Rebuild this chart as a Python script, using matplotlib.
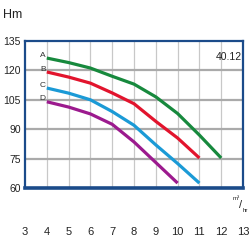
import matplotlib.pyplot as plt

# pump curves: flow (m3/hr) vs head (Hm)
flow_a = [4, 5, 6, 7, 8, 9, 10, 11, 12]
head_a = [126.3, 124, 121.2, 117, 113, 106.5, 98, 87, 75.3]
flow_b = [4, 5, 6, 7, 8, 9, 10, 11]
head_b = [119.2, 116.6, 113.5, 108.5, 103, 94, 85.5, 75.3]
flow_c = [4, 5, 6, 7, 8, 9, 10, 11]
head_c = [111, 108.4, 105, 99, 92, 82, 72.5, 62.5]
flow_d = [4, 5, 6, 7, 8, 9, 10]
head_d = [104, 101.3, 97.8, 92.5, 83.5, 73, 62.5]

curve_names = ["A", "B", "C", "D"]
curve_colors = ["#17893d", "#e2142d", "#1b9ad6", "#9c1a8e"]
x_ticks = list(range(3, 14))
y_ticks = [60, 75, 90, 105, 120, 135]

plt.rcParams["font.family"] = ["Liberation Sans", "DejaVu Sans"]

fig = plt.figure(figsize=(2.5, 2.5), dpi=100)
ax = fig.add_axes([0.1, 0.248, 0.872, 0.588])

ax.set_xlim(3, 13)
ax.set_ylim(60, 135)
ax.set_xticks(x_ticks)
ax.set_yticks(y_ticks)
ax.tick_params(length=0, labelsize=8, colors="#222222")
ax.tick_params(axis="x", pad=28)
ax.tick_params(axis="y", labelsize=7.5, pad=3)

for x in x_ticks[1:-1]:
    ax.axvline(x, color="#c8c8c8", lw=0.9, zorder=1)
for y in y_ticks[1:-1]:
    ax.axhline(y, color="#aaaaaa", lw=1.6, zorder=1)

navy = "#1b4b8a"
for side in ["top", "right", "left"]:
    ax.spines[side].set_color(navy)
    ax.spines[side].set_linewidth(1.6)
ax.spines["bottom"].set_color(navy)
ax.spines["bottom"].set_linewidth(2.6)

series = [(flow_a, head_a), (flow_b, head_b), (flow_c, head_c), (flow_d, head_d)]
for (fx, hy), name, col in zip(series, curve_names, curve_colors):
    ax.plot(fx, hy, color=col, lw=2.3, solid_capstyle="butt", zorder=3)
    ax.text(fx[0] - 0.05, hy[0] + 1.5, name, ha="right", va="center",
            fontsize=6, color="#333333")

ax.text(12.95, 127, "40.12", ha="right", va="center", fontsize=7.5, color="#222222")
fig.text(0.012, 0.94, "Hm", ha="left", va="center", fontsize=9, color="#222222")
fig.text(0.93, 0.205, "m³", ha="left", va="center", fontsize=4.5, color="#222222")
fig.text(0.955, 0.18, "/", ha="left", va="center", fontsize=8, color="#222222")
fig.text(0.972, 0.16, "hr", ha="left", va="center", fontsize=4.5, color="#222222")

fig.savefig("out.png", dpi=100)
